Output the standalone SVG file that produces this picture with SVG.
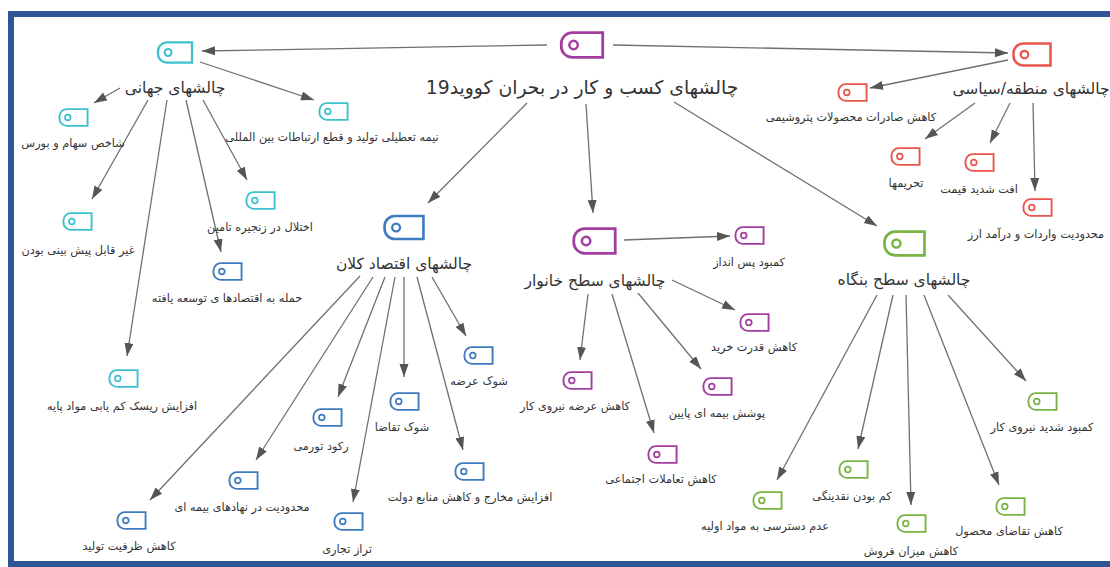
<svg xmlns="http://www.w3.org/2000/svg" width="1110" height="567" viewBox="0 0 1110 567">
<style>
.t{font-family:"DejaVu Sans","Noto Sans",sans-serif;fill:#333;text-anchor:middle;direction:rtl}
.s{font-size:11.3px}
.c{font-size:15.5px}
.m{font-size:18.8px}
.cy{color:#3CC2CE}.rd{color:#E8554B}.bl{color:#3F7CBF}.pu{color:#A23E9F}.gr{color:#78B545}
.ln{stroke:#707070;stroke-width:1.3;fill:none;marker-end:url(#ah)}
</style>
<defs>
<marker id="ah" markerUnits="userSpaceOnUse" markerWidth="14" markerHeight="10" refX="13" refY="4.5" orient="auto">
<path d="M0,0 L13,4.5 L0,9 Z" fill="#555"/>
</marker>
<symbol id="tag" viewBox="0 0 32 20" overflow="visible">
<path d="M9,1.2 H30.8 V18.8 H9 A7.8,7.8 0 0 1 1.2,11 V9 A7.8,7.8 0 0 1 9,1.2 Z" fill="#fff" stroke="currentColor" stroke-width="2"/>
<circle cx="10" cy="10" r="3" fill="none" stroke="currentColor" stroke-width="1.8"/>
</symbol>
</defs>
<rect x="0" y="0" width="1110" height="567" fill="#fff"/>
<rect x="11" y="14" width="1130" height="550" fill="none" stroke="#2F5597" stroke-width="6"/>

<g id="connectors">
<line class="ln" x1="547" y1="45" x2="202" y2="51"/>
<line class="ln" x1="613" y1="45" x2="1008" y2="53"/>
<line class="ln" x1="200" y1="62" x2="314" y2="100"/>
<line class="ln" x1="120" y1="88" x2="94" y2="103"/>
<line class="ln" x1="148" y1="100" x2="92" y2="199"/>
<line class="ln" x1="167" y1="100" x2="127" y2="356"/>
<line class="ln" x1="186" y1="100" x2="221" y2="252"/>
<line class="ln" x1="203" y1="100" x2="247" y2="180"/>
<line class="ln" x1="1008" y1="60" x2="870" y2="88"/>
<line class="ln" x1="975" y1="103" x2="925" y2="139"/>
<line class="ln" x1="1010" y1="103" x2="990" y2="143"/>
<line class="ln" x1="1033" y1="103" x2="1035" y2="191"/>
<line class="ln" x1="527" y1="103" x2="428" y2="203"/>
<line class="ln" x1="586" y1="104" x2="593" y2="213"/>
<line class="ln" x1="674" y1="102" x2="877" y2="226"/>
<line class="ln" x1="624" y1="240" x2="730" y2="236"/>
<line class="ln" x1="672" y1="280" x2="735" y2="310"/>
<line class="ln" x1="588" y1="294" x2="580" y2="360"/>
<line class="ln" x1="612" y1="294" x2="654" y2="433"/>
<line class="ln" x1="638" y1="293" x2="701" y2="369"/>
<line class="ln" x1="432" y1="277" x2="466" y2="336"/>
<line class="ln" x1="417" y1="277" x2="463" y2="450"/>
<line class="ln" x1="404" y1="277" x2="404" y2="377"/>
<line class="ln" x1="395" y1="277" x2="353" y2="502"/>
<line class="ln" x1="385" y1="277" x2="338" y2="397"/>
<line class="ln" x1="373" y1="277" x2="256" y2="460"/>
<line class="ln" x1="360" y1="276" x2="150" y2="500"/>
<line class="ln" x1="948" y1="295" x2="1026" y2="381"/>
<line class="ln" x1="924" y1="295" x2="999" y2="485"/>
<line class="ln" x1="906" y1="295" x2="911" y2="505"/>
<line class="ln" x1="893" y1="295" x2="858" y2="449"/>
<line class="ln" x1="877" y1="295" x2="777" y2="480"/>
</g>

<g id="n-main" class="pu"><use href="#tag" x="558" y="31" width="48" height="28"/><text class="t m" x="582" y="94">چالشهای کسب و کار در بحران کووید19</text></g>

<g id="n-global" class="cy"><use href="#tag" x="155" y="41" width="40" height="23"/><text class="t c" x="175" y="93">چالشهای جهانی</text></g>
<g id="n-g1" class="cy"><use href="#tag" x="58" y="108" width="31" height="19"/><text class="t s" x="73" y="147">شاخص سهام و بورس</text></g>
<g id="n-g2" class="cy"><use href="#tag" x="318" y="102" width="31" height="19"/><text class="t s" x="332" y="141">نیمه تعطیلی تولید و قطع ارتباطات بین المللی</text></g>
<g id="n-g3" class="cy"><use href="#tag" x="245" y="191" width="31" height="19"/><text class="t s" x="260" y="231">اختلال در زنجیره تامین</text></g>
<g id="n-g4" class="cy"><use href="#tag" x="62" y="212" width="31" height="19"/><text class="t s" x="78" y="254">غیر قابل پیش بینی بودن</text></g>
<g id="n-g5" class="bl"><use href="#tag" x="212" y="262" width="31" height="19"/><text class="t s" x="227" y="302">حمله به اقتصادها ی توسعه یافته</text></g>
<g id="n-g6" class="cy"><use href="#tag" x="108" y="369" width="31" height="19"/><text class="t s" x="122" y="410">افزایش ریسک کم یابی مواد پایه</text></g>

<g id="n-region" class="rd"><use href="#tag" x="1012" y="42" width="40" height="25"/><text class="t c" x="1031" y="94">چالشهای منطقه/سیاسی</text></g>
<g id="n-r1" class="rd"><use href="#tag" x="837" y="83" width="31" height="19"/><text class="t s" x="851" y="121">کاهش صادرات محصولات پتروشیمی</text></g>
<g id="n-r2" class="rd"><use href="#tag" x="890" y="147" width="31" height="19"/><text class="t s" x="906" y="187">تحریمها</text></g>
<g id="n-r3" class="rd"><use href="#tag" x="964" y="153" width="31" height="19"/><text class="t s" x="979" y="193">افت شدید قیمت</text></g>
<g id="n-r4" class="rd"><use href="#tag" x="1022" y="198" width="31" height="19"/><text class="t s" x="1036" y="238">محدودیت واردات و درآمد ارز</text></g>

<g id="n-macro" class="bl"><use href="#tag" x="383" y="214" width="42" height="27"/><text class="t c" x="404" y="269">چالشهای اقتصاد کلان</text></g>
<g id="n-m1" class="bl"><use href="#tag" x="463" y="346" width="31" height="19"/><text class="t s" x="479" y="385">شوک عرضه</text></g>
<g id="n-m2" class="bl"><use href="#tag" x="389" y="392" width="31" height="19"/><text class="t s" x="402" y="431">شوک تقاضا</text></g>
<g id="n-m3" class="bl"><use href="#tag" x="454" y="462" width="31" height="19"/><text class="t s" x="470" y="501">افزایش مخارج و کاهش منابع دولت</text></g>
<g id="n-m4" class="bl"><use href="#tag" x="312" y="408" width="31" height="19"/><text class="t s" x="321" y="450">رکود تورمی</text></g>
<g id="n-m5" class="bl"><use href="#tag" x="228" y="471" width="31" height="19"/><text class="t s" x="242" y="511">محدودیت در نهادهای بیمه ای</text></g>
<g id="n-m6" class="bl"><use href="#tag" x="116" y="511" width="31" height="19"/><text class="t s" x="129" y="550">کاهش ظرفیت تولید</text></g>
<g id="n-m7" class="bl"><use href="#tag" x="333" y="512" width="31" height="19"/><text class="t s" x="347" y="553">تراز تجاری</text></g>

<g id="n-house" class="pu"><use href="#tag" x="572" y="227" width="45" height="28"/><text class="t c" x="595" y="286">چالشهای سطح خانوار</text></g>
<g id="n-h1" class="pu"><use href="#tag" x="734" y="226" width="31" height="19"/><text class="t s" x="749" y="266">کمبود پس انداز</text></g>
<g id="n-h2" class="pu"><use href="#tag" x="739" y="313" width="31" height="19"/><text class="t s" x="754" y="351">کاهش قدرت خرید</text></g>
<g id="n-h3" class="pu"><use href="#tag" x="562" y="371" width="31" height="19"/><text class="t s" x="575" y="410">کاهش عرضه نیروی کار</text></g>
<g id="n-h4" class="pu"><use href="#tag" x="702" y="377" width="31" height="19"/><text class="t s" x="717" y="417">پوشش بیمه ای پایین</text></g>
<g id="n-h5" class="pu"><use href="#tag" x="647" y="445" width="31" height="19"/><text class="t s" x="661" y="483">کاهش تعاملات اجتماعی</text></g>

<g id="n-firm" class="gr"><use href="#tag" x="882" y="230" width="45" height="27"/><text class="t c" x="904" y="285">چالشهای سطح بنگاه</text></g>
<g id="n-f1" class="gr"><use href="#tag" x="1027" y="392" width="31" height="19"/><text class="t s" x="1042" y="431">کمبود شدید نیروی کار</text></g>
<g id="n-f2" class="gr"><use href="#tag" x="995" y="497" width="31" height="19"/><text class="t s" x="1009" y="535">کاهش تقاضای محصول</text></g>
<g id="n-f3" class="gr"><use href="#tag" x="896" y="514" width="31" height="19"/><text class="t s" x="911" y="555">کاهش میزان فروش</text></g>
<g id="n-f4" class="gr"><use href="#tag" x="838" y="460" width="31" height="19"/><text class="t s" x="852" y="500">کم بودن نقدینگی</text></g>
<g id="n-f5" class="gr"><use href="#tag" x="752" y="491" width="31" height="19"/><text class="t s" x="765" y="530">عدم دسترسی به مواد اولیه</text></g>
</svg>
